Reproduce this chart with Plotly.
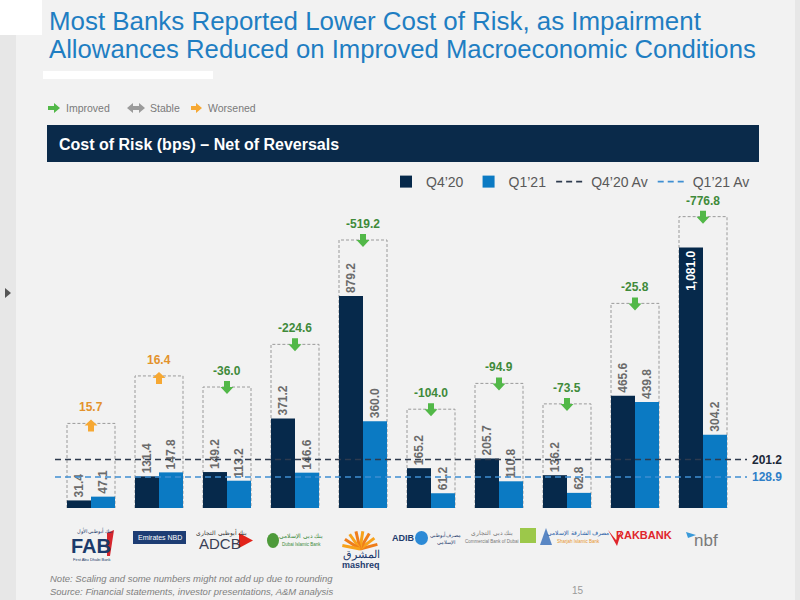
import plotly.graph_objects as go
import math

# ---------------- data ----------------
banks = ["FAB", "Emirates NBD", "ADCB", "DIB", "Mashreq", "ADIB", "CBD", "SIB", "RAKBANK", "NBF"]
q4_20 = [31.4, 131.4, 149.2, 371.2, 879.2, 165.2, 205.7, 136.2, 465.6, 1081.0]
q1_21 = [47.1, 147.8, 113.2, 146.6, 360.0, 61.2, 110.8, 62.8, 439.8, 304.2]
change = [15.7, 16.4, -36.0, -224.6, -519.2, -104.0, -94.9, -73.5, -25.8, -776.8]
avg_q4_20 = 201.2
avg_q1_21 = 128.9
# height (bps) of the dotted frame drawn round each bank's pair of bars
frame_tops = [351, 548, 502, 679, 1112, 410, 517, 432, 849, 1209]

# ---------------- layout geometry ----------------
W, H = 800, 600
FONT = "Arial, Liberation Sans, sans-serif"
NAVY = "#06294B"
BLUE = "#0B7AC3"
GREEN_A = "#52B848"
GREEN_T = "#3F8A3A"
ORANGE_A = "#F6A833"
ORANGE_T = "#E3922C"
GREY_T = "#6B6B6B"


def px(x):
    return x / W


def py(y):
    return 1 - y / H


UNIT_PX = 68.0          # pixels between bank groups
C0 = 91.0               # pixel of first group centre
XL, XR = 48.0, 760.0    # x domain in pixels
YB, YT = 508.0, 200.0   # y domain in pixels
PX_PER_BPS = 0.241
YMAX = (YB - YT) / PX_PER_BPS
ux = 1 / UNIT_PX
uy = 1 / PX_PER_BPS
bw = 24 * ux

xs = list(range(len(banks)))

fig = go.Figure()

fig.add_trace(go.Bar(
    x=xs, y=q4_20, name="Q4’20", width=bw, offset=-bw,
    marker=dict(color=NAVY, line=dict(width=0)),
    text=[f"{v:,.1f}" for v in q4_20],
    textposition=["inside" if v > 1000 else "outside" for v in q4_20],
    insidetextanchor="end", textangle=-90, constraintext="none",
    insidetextfont=dict(family=FONT, size=12, color="white", weight="bold"),
    outsidetextfont=dict(family=FONT, size=12, color=GREY_T, weight="bold"),
    cliponaxis=False, hovertext=banks,
))
fig.add_trace(go.Bar(
    x=xs, y=q1_21, name="Q1’21", width=bw, offset=0,
    marker=dict(color=BLUE, line=dict(width=0)),
    text=[f"{v:,.1f}" for v in q1_21],
    textposition="outside", textangle=-90, constraintext="none",
    outsidetextfont=dict(family=FONT, size=12, color=GREY_T, weight="bold"),
    cliponaxis=False, hovertext=banks,
))

xa0 = (55 - C0) / UNIT_PX
xa1 = (747 - C0) / UNIT_PX
fig.add_trace(go.Scatter(
    x=[xa0, xa1], y=[avg_q4_20, avg_q4_20], mode="lines", name="Q4’20 Av",
    line=dict(color="#2E3B4E", width=1.6, dash="6px,4px"), cliponaxis=False,
))
fig.add_trace(go.Scatter(
    x=[xa0, xa1], y=[avg_q1_21, avg_q1_21], mode="lines", name="Q1’21 Av",
    line=dict(color="#3F8FD2", width=1.6, dash="6px,4px"), cliponaxis=False,
))

shapes = []
annotations = []

# dotted frames, change arrows and change labels
for i, (ft, ch) in enumerate(zip(frame_tops, change)):
    x0, x1 = i - bw, i + bw
    shapes.append(dict(type="path", xref="x", yref="y", layer="below",
                       path=f"M{x0},0 L{x0},{ft} L{x1},{ft} L{x1},0",
                       line=dict(color="#9A9A9A", width=1, dash="3px,2px")))
    if ch < 0:
        top, bot = ft + 6 * uy, ft - 7 * uy
        neck = top - 6 * uy
        pts = [(i - 3 * ux, top), (i + 3 * ux, top), (i + 3 * ux, neck), (i + 6.5 * ux, neck),
               (i, bot), (i - 6.5 * ux, neck), (i - 3 * ux, neck)]
        fc, tc = GREEN_A, GREEN_T
    else:
        bot, top = ft - 8 * uy, ft + 4 * uy
        neck = bot + 6 * uy
        pts = [(i - 3 * ux, bot), (i + 3 * ux, bot), (i + 3 * ux, neck), (i + 6.5 * ux, neck),
               (i, top), (i - 6.5 * ux, neck), (i - 3 * ux, neck)]
        fc, tc = ORANGE_A, ORANGE_T
    path = "M" + " L".join(f"{a},{b}" for a, b in pts) + " Z"
    shapes.append(dict(type="path", xref="x", yref="y", path=path,
                       fillcolor=fc, line=dict(width=0)))
    annotations.append(dict(x=i, y=ft, xref="x", yref="y", yshift=16, showarrow=False,
                            text=f"{ch:.1f}", xanchor="center", yanchor="middle",
                            font=dict(family=FONT, size=12, color=tc, weight="bold")))

# average value labels
annotations.append(dict(x=px(750), y=avg_q4_20, xref="paper", yref="y", showarrow=False,
                        text=f"{avg_q4_20:.1f}", xanchor="left", yanchor="middle",
                        font=dict(family=FONT, size=12, color="#1B2838", weight="bold")))
annotations.append(dict(x=px(750), y=avg_q1_21, xref="paper", yref="y", showarrow=False,
                        text=f"{avg_q1_21:.1f}", xanchor="left", yanchor="middle",
                        font=dict(family=FONT, size=12, color="#2F7FC8", weight="bold")))


def ann(text, x, y, size, color, xanchor="left", yanchor="middle", weight="normal",
        style="normal", family=FONT):
    annotations.append(dict(text=text, x=px(x), y=py(y), xref="paper", yref="paper",
                            showarrow=False, xanchor=xanchor, yanchor=yanchor,
                            font=dict(family=family, size=size, color=color,
                                      weight=weight, style=style)))


def rect(x0, y0, x1, y1, color, layer="below", line=None):
    shapes.append(dict(type="rect", xref="paper", yref="paper", layer=layer,
                       x0=px(x0), x1=px(x1), y0=py(y1), y1=py(y0),
                       fillcolor=color, line=line or dict(width=0)))


def poly(pts, color, layer="above"):
    path = "M" + " L".join(f"{px(a)},{py(b)}" for a, b in pts) + " Z"
    shapes.append(dict(type="path", xref="paper", yref="paper", layer=layer, path=path,
                       fillcolor=color, line=dict(width=0)))


# slide decorations
rect(0, 0, 16, 600, "#E7E7E7")
rect(795, 0, 800, 600, "#E7E7E7")
rect(0, 0, 42, 35, "#FFFFFF")
rect(43, 71, 213, 79, "#FFFFFF")
poly([(5, 288), (11, 293), (5, 298)], "#555555")

# title
ann("Most Banks Reported Lower Cost of Risk, as Impairment", 47, 21, 25.9, "#1F7EC2")
ann("Allowances Reduced on Improved Macroeconomic Conditions", 47, 49, 25.7, "#1F7EC2")

# key row
poly([(48, 106), (54, 106), (54, 103), (60, 108), (54, 113), (54, 110), (48, 110)], GREEN_A)
ann("Improved", 64, 108, 10.5, "#7A7A7A")
poly([(127, 108), (133, 103), (133, 106), (139, 106), (139, 103), (145, 108), (139, 113),
      (139, 110), (133, 110), (133, 113)], "#9B9B9B")
ann("Stable", 148, 108, 10.5, "#7A7A7A")
poly([(191, 106), (196, 106), (196, 103), (202, 108), (196, 113), (196, 110), (191, 110)], ORANGE_A)
ann("Worsened", 206, 108, 10.5, "#7A7A7A")

# chart header band
rect(47, 125, 759, 162, "#0A2A4A")
ann("Cost of Risk (bps) – Net of Reversals", 57, 144, 16, "white", weight="bold")

# ---- bank logos (drawn as simple text marks) ----
# FAB
ann("بنك أبوظبي الأول", 94, 531, 5, "#1B3A6B", xanchor="center")
ann("FAB", 91, 546, 20, "#1B3A6B", xanchor="center", weight="bold")
poly([(107, 533), (114, 530), (110, 556), (107, 556)], "#D7262E")
ann("First Abu Dhabi Bank", 92, 559, 4, "#1B3A6B", xanchor="center")
# Emirates NBD
rect(133, 531, 186, 544, "#1D3D74", layer="above")
ann("Emirates NBD", 160, 537.5, 7, "white", xanchor="center")
# ADCB
ann("بنك أبوظبي التجاري", 221, 532, 5.5, "#333333", xanchor="center")
ann("ADCB", 220, 543, 15, "#3A3F55", xanchor="center")
poly([(239, 533), (253, 540.5), (239, 548)], "#E2231A")
# DIB
shapes.append(dict(type="circle", xref="paper", yref="paper", x0=px(267), x1=px(279),
                   y0=py(548), y1=py(533), fillcolor="#4E9A3A", line=dict(width=0)))
ann("بنك دبي الإسلامي", 301, 536, 6, "#3C8A3A", xanchor="center")
ann("Dubai Islamic Bank", 301, 544, 4.5, "#3C8A3A", xanchor="center")
# Mashreq sunburst
for k, ang in enumerate(range(15, 170, 22)):
    a = math.radians(ang)
    shapes.append(dict(type="line", xref="paper", yref="paper",
                       x0=px(360), y0=py(549), x1=px(360 + 18 * math.cos(a)),
                       y1=py(549 - 18 * math.sin(a)),
                       line=dict(color="#F7A21B" if k % 2 else "#EF7D1A", width=3)))
ann("المشرق", 361, 554, 11, "#1E3C6E", xanchor="center")
ann("mashreq", 361, 565, 9, "#1E3C6E", xanchor="center", weight="bold")
# ADIB
ann("ADIB", 403, 538, 9, "#1E3C6E", xanchor="center", weight="bold")
shapes.append(dict(type="circle", xref="paper", yref="paper", x0=px(415), x1=px(428),
                   y0=py(545), y1=py(531), fillcolor="#2C8AD6", line=dict(width=0)))
ann("مصرف أبوظبي<br>الإسلامي", 445, 538, 5, "#1E3C6E", xanchor="center")
# CBD
ann("بنك دبي التجاري", 492, 533, 6, "#777777", xanchor="center")
ann("Commercial Bank of Dubai", 492, 541, 4.5, "#777777", xanchor="center")
rect(520, 528, 536, 543, "#9CC84A", layer="above")
# SIB
poly([(546, 528), (552, 545), (540, 545)], "#5A87C4")
ann("مصرف الشارقة الإسلامي", 578, 533, 5.5, "#2B5FA8", xanchor="center")
ann("Sharjah Islamic Bank", 578, 541, 4.5, "#E8962E", xanchor="center")
# RAKBANK
poly([(608, 530), (616, 540), (622, 530), (617, 546)], "#E0252B")
ann("RAKBANK", 644, 535, 11, "#E0252B", xanchor="center", weight="bold")
# nbf
poly([(686, 532), (696, 535), (688, 538)], "#3A9AD9")
ann("nbf", 706, 540, 17, "#7A7A7A", xanchor="center")

# footnotes and page number
ann("Note: Scaling and some numbers might not add up due to rounding", 48, 578, 9.5,
    "#808080", style="italic")
ann("Source: Financial statements, investor presentations, A&amp;M analysis", 48, 591, 9.5,
    "#808080", style="italic")
ann("15", 578, 590, 10, "#9A9A9A", xanchor="center")

fig.update_layout(
    width=W, height=H,
    margin=dict(l=0, r=0, t=0, b=0),
    paper_bgcolor="#F2F2F2", plot_bgcolor="rgba(0,0,0,0)",
    font=dict(family=FONT, color=GREY_T),
    barmode="overlay",
    showlegend=True,
    legend=dict(orientation="h", x=px(386), xanchor="left", y=py(182), yanchor="middle",
                font=dict(family=FONT, size=14, color="#595959"),
                bgcolor="rgba(0,0,0,0)", traceorder="normal", itemclick=False),
    xaxis=dict(domain=[px(XL), px(XR)], range=[(XL - C0) / UNIT_PX, (XR - C0) / UNIT_PX],
               visible=False, fixedrange=True),
    yaxis=dict(domain=[py(YB), py(YT)], range=[0, YMAX], visible=False, fixedrange=True),
    shapes=shapes,
    annotations=annotations,
)

fig.write_html(
    "out.html",
    config={"displayModeBar": False},
    post_script="document.body.style.margin='0';document.body.style.overflow='hidden';"
                "document.body.style.background='#F2F2F2';",
)
